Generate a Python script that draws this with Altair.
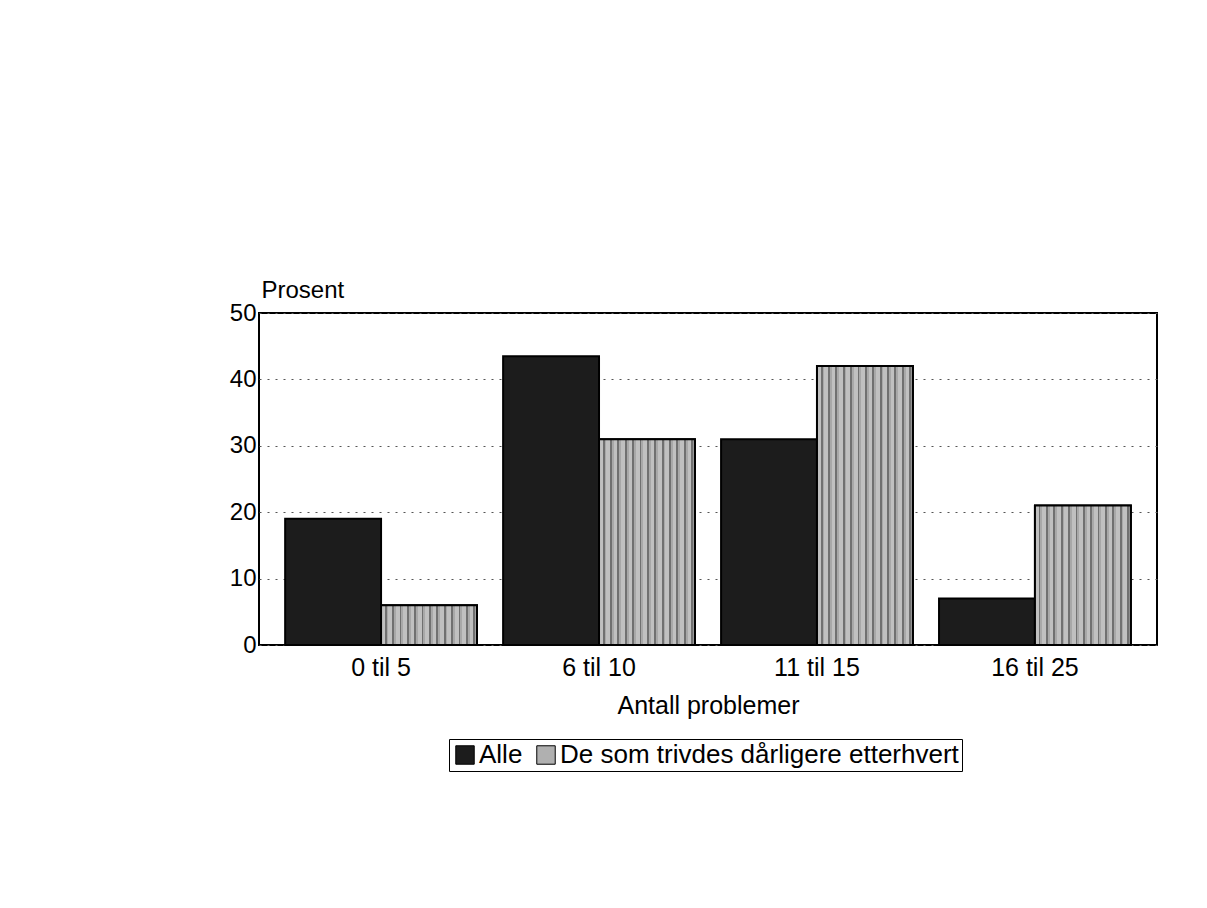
import altair as alt
import pandas as pd

categories = ["0 til 5", "6 til 10", "11 til 15", "16 til 25"]
series = ["Alle", "De som trivdes dårligere etterhvert"]
alle = [19, 43.5, 31, 7]
darligere = [6, 31, 42, 21]
y_ticks = [0, 10, 20, 30, 40, 50]

rows = []
for c, a, d in zip(categories, alle, darligere):
    rows.append({"kategori": c, "serie": series[0], "prosent": a})
    rows.append({"kategori": c, "serie": series[1], "prosent": d})
df = pd.DataFrame(rows)

FONT = "Liberation Sans"

# vertical stripe pattern as gradient
stops = []
n = 13
for i in range(n):
    s = i / n
    stops += [
        {"offset": s, "color": "#c0c0c0"},
        {"offset": s + 0.5 / n, "color": "#c0c0c0"},
        {"offset": s + 0.5 / n, "color": "#707070"},
        {"offset": s + 0.75 / n, "color": "#707070"},
        {"offset": s + 0.75 / n, "color": "#a8a8a8"},
        {"offset": (i + 1) / n, "color": "#a8a8a8"},
    ]
stripe = {"gradient": "linear", "x1": 0, "x2": 1, "y1": 0, "y2": 0, "stops": stops}

x = alt.X("kategori:N", sort=categories,
          scale=alt.Scale(paddingInner=0.12, paddingOuter=0.12),
          axis=alt.Axis(title="Antall problemer", labelAngle=0, ticks=False,
                        domain=False, labelPadding=10, titleFontWeight="normal",
                        titlePadding=13, labelFontSize=25, titleFontSize=25))
xoff = alt.XOffset("serie:N", sort=series, scale=alt.Scale(domain=series))
y = alt.Y("prosent:Q",
          scale=alt.Scale(domain=[0, 50], nice=False),
          axis=alt.Axis(values=y_ticks, title="Prosent", titleAngle=0,
                        titleAlign="left", titleX=2, titleY=-16,
                        titleBaseline="alphabetic", titleFontWeight="normal",
                        ticks=False, domain=False, labelPadding=3,
                        grid=True, gridDash=[2, 6], gridColor="#555555",
                        gridWidth=1.2))

base = alt.Chart(df)
bars = base.mark_bar(stroke="black", strokeWidth=2).encode(
    x=x, xOffset=xoff, y=y,
    color=alt.Color("serie:N", sort=series,
                    scale=alt.Scale(domain=series, range=["#1c1c1c", "#b0b0b0"]),
                    legend=alt.Legend(title=None, orient="none", direction="horizontal",
                                      legendX=190, legendY=426,
                                      symbolType="square", symbolSize=340,
                                      symbolStrokeColor="black", symbolStrokeWidth=1,
                                      labelFontSize=26, labelFont=FONT,
                                      labelColor="black", labelLimit=1000,
                                      columnPadding=10,
                                      symbolOffset=0, labelOffset=1,
                                      strokeColor="black", padding=3)),
)
hatch = base.transform_filter(alt.datum.serie == series[1]).mark_bar(
    fill=stripe, stroke="black", strokeWidth=2
).encode(x=x, xOffset=xoff, y=y)

chart = alt.layer(bars, hatch).properties(
    width=898, height=332,
    autosize=alt.AutoSizeParams(type="none"),
    padding={"left": 251, "top": 305, "right": 40, "bottom": 200},
).configure_view(
    stroke="black", strokeWidth=2
).configure_axis(
    labelFont=FONT, titleFont=FONT, labelFontSize=24, titleFontSize=24,
    labelColor="black", titleColor="black",
)

chart.save("out.html", embed_options={"renderer": "svg", "actions": False})
